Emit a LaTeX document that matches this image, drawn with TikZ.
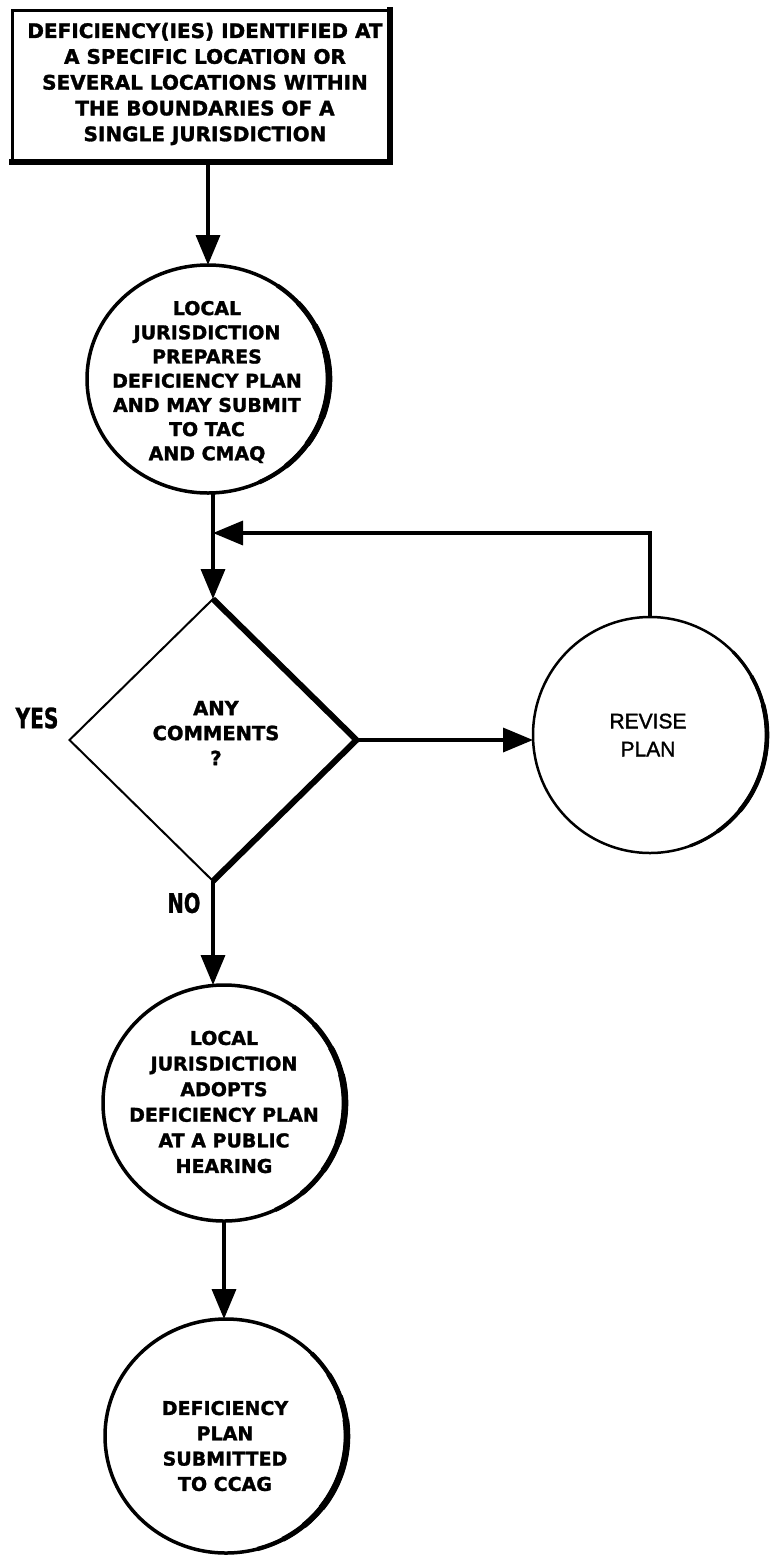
\documentclass[tikz,border=0pt]{standalone}
\usepackage{fontspec}
\setmainfont{DejaVu Sans}[BoldFeatures={FakeBold=1.5}]
\newfontfamily\condfont[FakeStretch=0.72,BoldFeatures={FakeBold=1}]{DejaVu Sans}
\newfontfamily\libfont[FakeBold=1.5]{Liberation Sans}
\usetikzlibrary{arrows.meta,shapes.geometric}
\newcommand\heavyside[4]{%
  \foreach \w/\a/\b in {#4} {%
    \draw[line width=\w pt] (#1.center) ++(\a:#2 and #3) arc[start angle=\a,end angle=\b,x radius=#2,y radius=#3];
  }}
\begin{document}
\begin{tikzpicture}[x=1pt,y=-1pt,
  conn/.style={line width=3.5pt},
  arr/.style={conn,-{Triangle[length=30pt,width=24pt]}},
  bubble/.style={ellipse,inner sep=0pt,outer sep=0pt},
  btext/.style={align=center,inner sep=0pt,font=\bfseries\fontsize{19}{24.5}\selectfont},
  lab/.style={inner sep=0pt,font=\condfont\bfseries\fontsize{28}{30}\selectfont}]
\useasboundingbox (0,0) rectangle (769,1558);

% top box
\node[draw,line width=3pt,minimum width=378pt,minimum height=152pt,inner sep=0pt,outer sep=0pt] (box) at (201,86) {};
\draw[line width=6pt,line cap=rect] (box.north east) -- (box.south east) -- (box.south west);
\node[align=center,inner sep=0pt,font=\bfseries\fontsize{20}{25.8}\selectfont] (boxt) at (205,84)
  {DEFICIENCY(IES) IDENTIFIED AT\\A SPECIFIC LOCATION OR\\SEVERAL LOCATIONS WITHIN\\THE BOUNDARIES OF A\\SINGLE JURISDICTION};

% circle 1
\node[bubble,minimum width=242pt,minimum height=228pt] (c1) at (208,379) {};
\draw[line width=3.5pt] (c1.center) ellipse [x radius=121pt,y radius=114pt];
\heavyside{c1}{121pt}{114pt}{4.3/-65/55,5.1/-50/42,5.9/-35/28,6.6/-20/14}
\node[btext,font=\bfseries\fontsize{19}{24.2}\selectfont] (t1) at (207,382)
  {LOCAL\\JURISDICTION\\PREPARES\\DEFICIENCY PLAN\\AND MAY SUBMIT\\TO TAC\\AND CMAQ};

% junction
\coordinate (J) at (213,533);

% diamond
\node[diamond,draw,line width=2pt,minimum width=287pt,minimum height=282pt,inner sep=0pt,outer sep=0pt] (d) at (213,740) {};
\draw[line width=6pt,line join=miter] (d.north) -- (d.east) -- (d.south);
\node[btext,font=\bfseries\fontsize{19.5}{25}\selectfont] (dt) at (216,733) {ANY\\COMMENTS\\?};

% revise
\node[bubble,minimum width=234pt,minimum height=236pt] (r) at (650,735) {};
\draw[line width=2.5pt] (r.center) ellipse [x radius=117pt,y radius=118pt];
\heavyside{r}{117pt}{118pt}{3.2/-70/45,3.9/-55/30,4.6/-40/15}
\node[align=center,inner sep=0pt,font=\libfont\fontsize{21}{28}\selectfont] (rt) at (648,735) {REVISE\\PLAN};

% circle 3
\node[bubble,minimum width=242pt,minimum height=236pt] (c3) at (224,1103) {};
\draw[line width=3.5pt] (c3.center) ellipse [x radius=121pt,y radius=118pt];
\heavyside{c3}{121pt}{118pt}{4.3/-65/55,5.1/-50/42,5.9/-35/28,6.6/-20/14}
\node[btext,font=\bfseries\fontsize{19}{25.6}\selectfont] (t3) at (224,1102)
  {LOCAL\\JURISDICTION\\ADOPTS\\DEFICIENCY PLAN\\AT A PUBLIC\\HEARING};

% circle 4
\node[bubble,minimum width=242pt,minimum height=234pt] (c4) at (226,1436) {};
\draw[line width=3.5pt] (c4.center) ellipse [x radius=121pt,y radius=117pt];
\heavyside{c4}{121pt}{117pt}{4.3/-75/45,5.1/-62/32,5.9/-50/20,6.6/-38/8}
\node[btext,font=\bfseries\fontsize{19}{25.3}\selectfont] (t4) at (225,1446)
  {DEFICIENCY\\PLAN\\SUBMITTED\\TO CCAG};

% labels
\node[lab] (yes) at (37,718) {YES};
\node[lab,font=\condfont\bfseries\fontsize{27}{30}\selectfont] (no) at (184,903) {NO};

% connectors
\draw[arr] (c1.north |- box.south) -- (c1.north);
\draw[conn] (J |- c1.south) -- (J);
\draw[arr] (J) -- (d.north);
\draw[arr] (r.north) -- (r.north |- J) -- (J);
\draw[arr] (d.east) -- (d.east -| r.west);
\draw[arr] (d.south) -- (d.south |- c3.north);
\draw[arr] (c3.south) -- (c3.south |- c4.north);
\end{tikzpicture}
\end{document}
